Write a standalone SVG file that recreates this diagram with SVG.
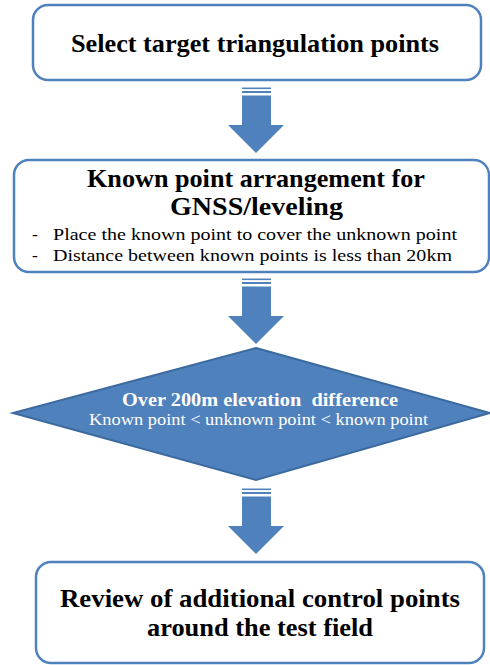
<svg xmlns="http://www.w3.org/2000/svg" width="490" height="665" viewBox="0 0 490 665">
<style>
.box{fill:#ffffff;stroke:#4f81bd;stroke-width:2.5}
.arrow{fill:#4f81bd}
.dia{fill:#4f81bd;stroke:#3c6a9e;stroke-width:2}
.t{font-family:"Liberation Serif","DejaVu Serif",serif;fill:#000000;text-anchor:middle}
.b{font-weight:bold}
.w{fill:#ffffff}
.s{font-family:"Liberation Serif","DejaVu Serif",serif;fill:#000000;font-size:17.5px}
</style>
<rect width="490" height="665" fill="#ffffff"/>
<g id="connectors">
  <g id="arrow1">
    <rect class="arrow" x="242" y="87.5" width="29" height="1.6"/>
    <rect class="arrow" x="242" y="91" width="29" height="2"/>
    <polygon class="arrow" points="242,95.5 271,95.5 271,125 284,125 256,153 228,125 242,125"/>
  </g>
  <g id="arrow2">
    <rect class="arrow" x="242" y="278.5" width="29" height="1.6"/>
    <rect class="arrow" x="242" y="282" width="29" height="2"/>
    <polygon class="arrow" points="242,286.5 271,286.5 271,316 284,316 256,344 228,316 242,316"/>
  </g>
  <g id="arrow3">
    <rect class="arrow" x="242" y="488.5" width="29" height="1.6"/>
    <rect class="arrow" x="242" y="492" width="29" height="2"/>
    <polygon class="arrow" points="242,496.5 271,496.5 271,526 284,526 256,554 228,526 242,526"/>
  </g>
</g>
<g id="node1">
  <rect class="box" x="33" y="5" width="448" height="75" rx="15"/>
  <text class="t b" x="255" y="52" font-size="24.5" textLength="368" lengthAdjust="spacingAndGlyphs">Select target triangulation points</text>
</g>
<g id="node2">
  <rect class="box" x="14" y="160" width="475" height="112" rx="15"/>
  <text class="t b" x="256" y="187" font-size="24.5" textLength="338" lengthAdjust="spacingAndGlyphs">Known point arrangement for</text>
  <text class="t b" x="256.5" y="215" font-size="24.5" textLength="173" lengthAdjust="spacingAndGlyphs">GNSS/leveling</text>
  <text class="s" x="32" y="240">-</text>
  <text class="s" x="53" y="240" textLength="404" lengthAdjust="spacingAndGlyphs">Place the known point to cover the unknown point</text>
  <text class="s" x="32" y="261">-</text>
  <text class="s" x="53" y="261" textLength="399" lengthAdjust="spacingAndGlyphs">Distance between known points is less than 20km</text>
</g>
<g id="node3">
  <polygon class="dia" points="256,348 490,413 256,480 13,413"/>
  <text class="t b w" x="260" y="406" font-size="19" textLength="276" lengthAdjust="spacingAndGlyphs" xml:space="preserve">Over 200m elevation  difference</text>
  <text class="t w" x="258.5" y="425" font-size="16.5" textLength="339" lengthAdjust="spacingAndGlyphs">Known point &lt; unknown point &lt; known point</text>
</g>
<g id="node4">
  <rect class="box" x="36" y="562" width="448" height="101" rx="15"/>
  <text class="t b" x="260" y="607" font-size="24.5" textLength="400" lengthAdjust="spacingAndGlyphs">Review of additional control points</text>
  <text class="t b" x="260" y="636" font-size="24.5" textLength="226" lengthAdjust="spacingAndGlyphs">around the test field</text>
</g>
</svg>
